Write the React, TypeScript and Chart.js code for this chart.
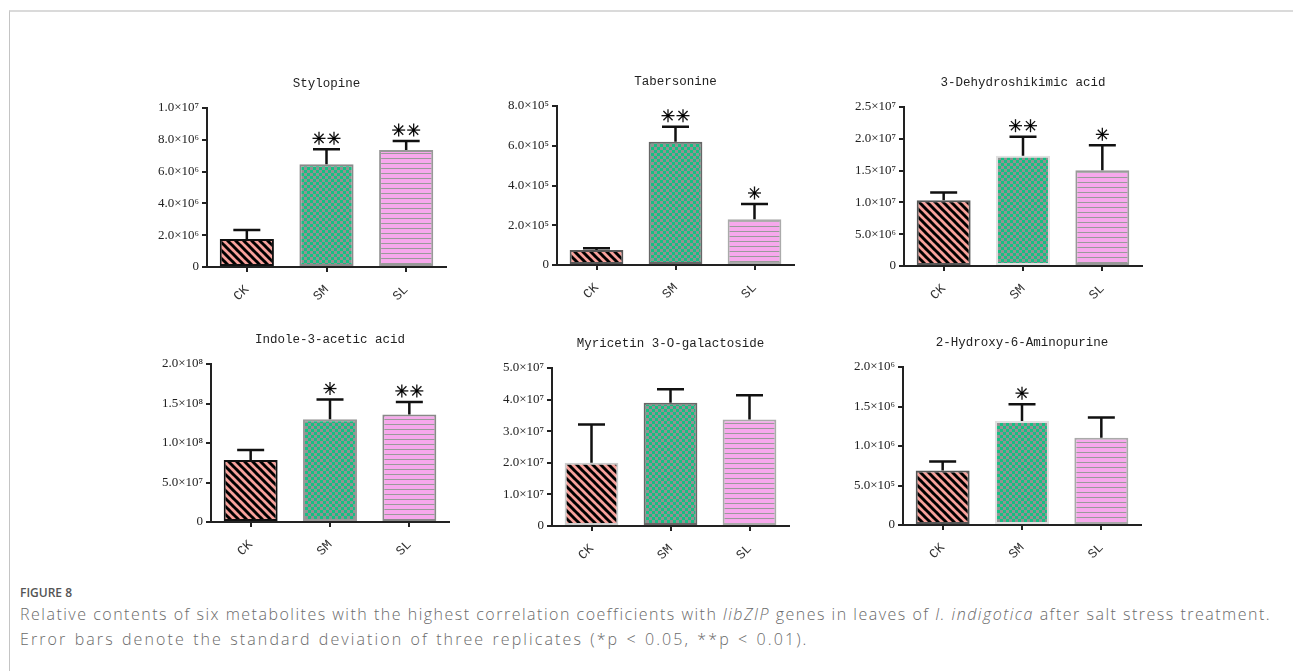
import React, { useEffect, useRef } from "react";
import { Chart, registerables } from "chart.js";

Chart.register(...registerables);

// ---------- data ----------
const categories = ["CK", "SM", "SL"];

const stylopineMeans = [1.76e6, 6.46e6, 7.36e6];
const stylopineSD = [0.57e6, 0.94e6, 0.56e6];
const stylopineSig = ["", "**", "**"];
const stylopineTicks = ["0", "2.0×10⁶", "4.0×10⁶", "6.0×10⁶", "8.0×10⁶", "1.0×10⁷"];

const tabersonineMeans = [7.5e4, 6.2e5, 2.3e5];
const tabersonineSD = [0.9e4, 0.76e5, 0.77e5];
const tabersonineSig = ["", "**", "*"];
const tabersonineTicks = ["0", "2.0×10⁵", "4.0×10⁵", "6.0×10⁵", "8.0×10⁵"];

const dehydroMeans = [1.035e7, 1.733e7, 1.507e7];
const dehydroSD = [0.12e7, 0.3e7, 0.39e7];
const dehydroSig = ["", "**", "*"];
const dehydroTicks = ["0", "5.0×10⁶", "1.0×10⁷", "1.5×10⁷", "2.0×10⁷", "2.5×10⁷"];

const indoleMeans = [7.86e7, 1.3e8, 1.36e8];
const indoleSD = [1.24e7, 0.25e8, 0.16e8];
const indoleSig = ["", "*", "**"];
const indoleTicks = ["0", "5.0×10⁷", "1.0×10⁸", "1.5×10⁸", "2.0×10⁸"];

const myricetinMeans = [2.0e7, 3.9e7, 3.37e7];
const myricetinSD = [1.21e7, 0.43e7, 0.77e7];
const myricetinSig = ["", "", ""];
const myricetinTicks = ["0", "1.0×10⁷", "2.0×10⁷", "3.0×10⁷", "4.0×10⁷", "5.0×10⁷"];

const hydroxyMeans = [6.9e5, 1.315e6, 1.104e6];
const hydroxySD = [1.13e5, 0.215e6, 0.256e6];
const hydroxySig = ["", "*", ""];
const hydroxyTicks = ["0", "5.0×10⁵", "1.0×10⁶", "1.5×10⁶", "2.0×10⁶"];

const panelTitles = [
  "Stylopine",
  "Tabersonine",
  "3-Dehydroshikimic acid",
  "Indole-3-acetic acid",
  "Myricetin 3-O-galactoside",
  "2-Hydroxy-6-Aminopurine",
];
const yMax = [1e7, 8e5, 2.5e7, 2e8, 5e7, 2e6];
const yStep = [2e6, 2e5, 5e6, 5e7, 1e7, 5e5];

// ---------- layout (plot area positions on the page) ----------
const areas = [
  { left: 207, top: 108, w: 239, h: 159 },
  { left: 557, top: 106, w: 237, h: 159 },
  { left: 904, top: 107, w: 238, h: 159 },
  { left: 211, top: 364, w: 238, h: 158 },
  { left: 552, top: 368, w: 237, h: 158 },
  { left: 903, top: 367, w: 238, h: 158 },
];
const ckBorder = ["#111", "#555", "#555", "#111", "#ccc", "#555"];
const smBorder = ["#8a8a8a", "#666", "#e0e0e0", "#999", "#666", "#e0e0e0"];
const slBorder = ["#999", "#aaa", "#999", "#888", "#aaa", "#aaa"];

const PAD_L = 80;
const PAD_T = 40;
const PAD_R = 12;
const PAD_B = 50;

function makePattern(kind: string): CanvasPattern | string {
  const c = document.createElement("canvas");
  const ctx = c.getContext("2d")!;
  if (kind === "ck") {
    c.width = 8;
    c.height = 8;
    ctx.fillStyle = "#f7a19b";
    ctx.fillRect(0, 0, 8, 8);
    ctx.strokeStyle = "#000";
    ctx.lineWidth = 3;
    for (const k of [-8, 0, 8]) {
      ctx.beginPath();
      ctx.moveTo(k - 1, -1);
      ctx.lineTo(k + 9, 9);
      ctx.stroke();
    }
  } else if (kind === "sm") {
    c.width = 6;
    c.height = 6;
    ctx.fillStyle = "#15bf82";
    ctx.fillRect(0, 0, 6, 6);
    ctx.fillStyle = "#929292";
    ctx.fillRect(0, 0, 3, 3);
    ctx.fillRect(3, 3, 3, 3);
  } else {
    c.width = 4;
    c.height = 5;
    ctx.fillStyle = "#f7a8ec";
    ctx.fillRect(0, 0, 4, 5);
    ctx.fillStyle = "#9a9a9a";
    ctx.fillRect(0, 0, 4, 1);
  }
  return ctx.createPattern(c, "repeat") || "#ccc";
}

function drawStar(ctx: CanvasRenderingContext2D, cx: number, cy: number, r: number) {
  ctx.save();
  ctx.strokeStyle = "#111";
  ctx.lineWidth = 1.3;
  for (let a = 0; a < 4; a++) {
    const ang = (a * Math.PI) / 4;
    ctx.beginPath();
    ctx.moveTo(cx - r * Math.cos(ang), cy - r * Math.sin(ang));
    ctx.lineTo(cx + r * Math.cos(ang), cy + r * Math.sin(ang));
    ctx.stroke();
  }
  ctx.beginPath();
  ctx.fillStyle = "#000";
  ctx.arc(cx, cy, 1.6, 0, Math.PI * 2);
  ctx.fill();
  ctx.restore();
}

type PanelProps = {
  idx: number;
  means: number[];
  sd: number[];
  sig: string[];
  ticks: string[];
};

function Panel({ idx, means, sd, sig, ticks }: PanelProps) {
  const ref = useRef<HTMLCanvasElement>(null);
  const area = areas[idx];
  const cw = PAD_L + area.w + PAD_R;
  const ch = PAD_T + area.h + PAD_B;

  useEffect(() => {
    if (!ref.current) return;
    const title = panelTitles[idx];
    const overlay = {
      id: "overlay" + idx,
      afterDatasetsDraw(chart: any) {
        const ctx = chart.ctx as CanvasRenderingContext2D;
        const meta = chart.getDatasetMeta(0);
        const ys = chart.scales.y;
        meta.data.forEach((el: any, i: number) => {
          const x = el.x;
          const yBar = el.y;
          const yTop = ys.getPixelForValue(means[i] + sd[i]);
          ctx.save();
          ctx.strokeStyle = "#111";
          ctx.lineWidth = 2.5;
          ctx.beginPath();
          ctx.moveTo(x, yBar);
          ctx.lineTo(x, yTop);
          ctx.moveTo(x - 13.5, yTop);
          ctx.lineTo(x + 13.5, yTop);
          ctx.stroke();
          ctx.restore();
          const n = sig[i].length;
          for (let j = 0; j < n; j++) {
            drawStar(ctx, x + (j - (n - 1) / 2) * 15, yTop - 11, 6.5);
          }
        });
      },
      afterDraw(chart: any) {
        const ctx = chart.ctx as CanvasRenderingContext2D;
        const a = chart.chartArea;
        ctx.save();
        ctx.font = '12.5px "Liberation Mono"';
        ctx.fillStyle = "#222";
        ctx.textAlign = "center";
        ctx.textBaseline = "middle";
        ctx.fillText(title, (a.left + a.right) / 2, a.top - 24);
        ctx.restore();
      },
    };

    const chart = new Chart(ref.current, {
      type: "bar",
      data: {
        labels: categories,
        datasets: [
          {
            data: means,
            backgroundColor: [makePattern("ck"), makePattern("sm"), makePattern("sl")] as any,
            borderColor: [ckBorder[idx], smBorder[idx], slBorder[idx]],
            borderWidth: 2,
            borderSkipped: false,
            barPercentage: 0.68,
            categoryPercentage: 1,
          },
        ],
      },
      options: {
        responsive: false,
        animation: false,
        devicePixelRatio: 1,
        layout: { padding: { top: PAD_T, right: PAD_R, left: 0, bottom: 0 } },
        plugins: {
          legend: { display: false },
          tooltip: { enabled: false },
          title: { display: false },
        },
        scales: {
          x: {
            type: "category",
            offset: true,
            grid: {
              display: true,
              drawOnChartArea: false,
              drawTicks: true,
              tickLength: 5,
              color: "#222",
              lineWidth: 2,
              offset: false,
            },
            border: { display: true, color: "#222", width: 2 },
            ticks: {
              maxRotation: 45,
              minRotation: 45,
              color: "#333",
              padding: 10,
              font: { family: '"Liberation Mono"', size: 13 },
            },
            afterFit: (s: any) => {
              s.height = PAD_B;
              s.paddingLeft = 0;
              s.paddingRight = 0;
            },
          },
          y: {
            min: 0,
            max: yMax[idx],
            grid: {
              display: true,
              drawOnChartArea: false,
              drawTicks: true,
              tickLength: 5,
              color: "#222",
              lineWidth: 2,
            },
            border: { display: true, color: "#222", width: 2 },
            ticks: {
              stepSize: yStep[idx],
              color: "#222",
              padding: 3,
              font: { family: '"Liberation Serif"', size: 13 },
              callback: (_v: any, i: number) => ticks[i],
            },
            afterFit: (s: any) => {
              s.width = PAD_L;
              s.paddingTop = 0;
              s.paddingBottom = 0;
            },
          },
        },
      } as any,
      plugins: [overlay],
    });
    return () => chart.destroy();
  }, []);

  return (
    <canvas
      ref={ref}
      width={cw}
      height={ch}
      style={{
        position: "absolute",
        left: area.left - PAD_L,
        top: area.top - PAD_T,
        width: cw,
        height: ch,
      }}
    />
  );
}

export default function App() {
  const captionFont = '"Open Sans", "Noto Sans", sans-serif';
  return (
    <div
      style={{
        position: "absolute",
        left: 0,
        top: 0,
        width: 1293,
        height: 671,
        background: "#fff",
        overflow: "hidden",
      }}
    >
      <div
        style={{
          position: "absolute",
          left: 9,
          top: 10,
          right: -5,
          bottom: -5,
          borderTop: "2px solid #dadada",
          borderLeft: "1px solid #c4c4c4",
        }}
      />
      <Panel idx={0} means={stylopineMeans} sd={stylopineSD} sig={stylopineSig} ticks={stylopineTicks} />
      <Panel idx={1} means={tabersonineMeans} sd={tabersonineSD} sig={tabersonineSig} ticks={tabersonineTicks} />
      <Panel idx={2} means={dehydroMeans} sd={dehydroSD} sig={dehydroSig} ticks={dehydroTicks} />
      <Panel idx={3} means={indoleMeans} sd={indoleSD} sig={indoleSig} ticks={indoleTicks} />
      <Panel idx={4} means={myricetinMeans} sd={myricetinSD} sig={myricetinSig} ticks={myricetinTicks} />
      <Panel idx={5} means={hydroxyMeans} sd={hydroxySD} sig={hydroxySig} ticks={hydroxyTicks} />
      <div
        style={{
          position: "absolute",
          left: 20,
          top: 585,
          fontFamily: captionFont,
          fontSize: 12,
          fontWeight: 600,
          color: "#555",
          lineHeight: "16px",
        }}
      >
        FIGURE 8
      </div>
      <div
        style={{
          position: "absolute",
          left: 20,
          top: 602,
          width: 1265,
          fontFamily: captionFont,
          fontSize: 16,
          fontWeight: 300,
          color: "#6a6a6a",
          lineHeight: "25px",
          whiteSpace: "nowrap",
        }}
      >
        <div style={{ letterSpacing: "1.5px" }}>
          Relative contents of six metabolites with the highest correlation coefficients with <i>libZIP</i> genes in
          leaves of <i>I. indigotica</i> after salt stress treatment.
        </div>
        <div style={{ letterSpacing: "2.1px", wordSpacing: "1px" }}>
          Error bars denote the standard deviation of three replicates (*p &lt; 0.05, **p &lt; 0.01).
        </div>
      </div>
    </div>
  );
}
